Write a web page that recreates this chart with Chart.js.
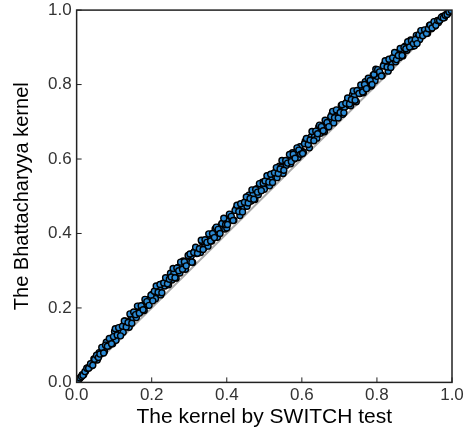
<!DOCTYPE html>
<html>
<head>
<meta charset="utf-8">
<script src="https://cdn.jsdelivr.net/npm/chart.js@4.4.1/dist/chart.umd.min.js"></script>
<style>
  html, body { margin: 0; padding: 0; background: #ffffff; }
  #wrap { width: 472px; height: 435px; position: relative; }
</style>
</head>
<body>
<div id="wrap"><canvas id="c" width="472" height="435"></canvas></div>
<script>
// Kernel by SWITCH test (x) vs Bhattacharyya kernel (y)
const switchKernel = [
  0.002, 0.006, 0.011, 0.015, 0.019, 0.024, 0.029, 0.034, 0.040, 0.046,
  0.051, 0.055, 0.060, 0.064, 0.069, 0.074, 0.079, 0.085, 0.090, 0.096,
  0.101, 0.105, 0.110, 0.114, 0.119, 0.124, 0.129, 0.134, 0.140, 0.145,
  0.150, 0.155, 0.159, 0.164, 0.170, 0.175, 0.180, 0.185, 0.190, 0.196,
  0.201, 0.205, 0.210, 0.215, 0.220, 0.224, 0.229, 0.235, 0.240, 0.245,
  0.250, 0.254, 0.259, 0.265, 0.270, 0.275, 0.279, 0.284, 0.290, 0.295,
  0.300, 0.305, 0.309, 0.314, 0.320, 0.325, 0.330, 0.334, 0.340, 0.345,
  0.350, 0.355, 0.360, 0.364, 0.369, 0.375, 0.380, 0.385, 0.390, 0.395,
  0.400, 0.405, 0.410, 0.414, 0.419, 0.425, 0.430, 0.435, 0.440, 0.445,
  0.450, 0.454, 0.459, 0.465, 0.470, 0.475, 0.480, 0.484, 0.490, 0.495,
  0.500, 0.505, 0.509, 0.514, 0.520, 0.525, 0.530, 0.534, 0.540, 0.545,
  0.550, 0.555, 0.559, 0.564, 0.570, 0.575, 0.580, 0.585, 0.590, 0.595,
  0.600, 0.604, 0.609, 0.615, 0.620, 0.625, 0.629, 0.634, 0.640, 0.645,
  0.650, 0.655, 0.660, 0.664, 0.669, 0.675, 0.680, 0.685, 0.690, 0.695,
  0.700, 0.705, 0.709, 0.714, 0.720, 0.725, 0.730, 0.735, 0.740, 0.745,
  0.750, 0.755, 0.760, 0.764, 0.769, 0.775, 0.780, 0.785, 0.790, 0.795,
  0.800, 0.805, 0.810, 0.814, 0.819, 0.825, 0.830, 0.835, 0.840, 0.845,
  0.850, 0.855, 0.860, 0.864, 0.869, 0.875, 0.880, 0.885, 0.890, 0.895,
  0.900, 0.905, 0.910, 0.914, 0.919, 0.925, 0.930, 0.935, 0.940, 0.945,
  0.950, 0.955, 0.960, 0.964, 0.969, 0.975, 0.980, 0.985, 0.990, 0.996,
  0.004, 0.009, 0.013, 0.017, 0.022, 0.027, 0.032, 0.037, 0.043, 0.048,
  0.053, 0.058, 0.062, 0.067, 0.072, 0.077, 0.082, 0.087, 0.093, 0.098,
  0.103, 0.108, 0.112, 0.117, 0.122, 0.127, 0.132, 0.137, 0.142, 0.147,
  0.152, 0.157, 0.162, 0.167, 0.172, 0.177, 0.182, 0.187, 0.193, 0.198,
  0.203, 0.207, 0.212, 0.217, 0.222, 0.227, 0.232, 0.237, 0.242, 0.247,
  0.252, 0.257, 0.262, 0.267, 0.272, 0.277, 0.282, 0.287, 0.292, 0.297,
  0.302, 0.307, 0.312, 0.317, 0.322, 0.327, 0.332, 0.337, 0.342, 0.347,
  0.352, 0.357, 0.362, 0.367, 0.372, 0.377, 0.382, 0.387, 0.392, 0.397,
  0.402, 0.407, 0.412, 0.417, 0.422, 0.427, 0.432, 0.437, 0.442, 0.447,
  0.452, 0.457, 0.462, 0.467, 0.472, 0.477, 0.482, 0.487, 0.492, 0.497,
  0.502, 0.507, 0.512, 0.517, 0.522, 0.527, 0.532, 0.537, 0.542, 0.547,
  0.552, 0.557, 0.562, 0.567, 0.572, 0.577, 0.582, 0.587, 0.592, 0.597,
  0.602, 0.607, 0.612, 0.617, 0.622, 0.627, 0.632, 0.637, 0.642, 0.647,
  0.652, 0.657, 0.662, 0.667, 0.672, 0.677, 0.682, 0.687, 0.692, 0.697,
  0.702, 0.707, 0.712, 0.717, 0.722, 0.727, 0.732, 0.737, 0.742, 0.747,
  0.752, 0.757, 0.762, 0.767, 0.772, 0.777, 0.782, 0.787, 0.792, 0.797,
  0.802, 0.807, 0.812, 0.817, 0.822, 0.827, 0.832, 0.837, 0.842, 0.847,
  0.852, 0.857, 0.862, 0.867, 0.872, 0.877, 0.882, 0.887, 0.892, 0.897,
  0.902, 0.907, 0.912, 0.917, 0.922, 0.927, 0.932, 0.937, 0.942, 0.947,
  0.952, 0.957, 0.962, 0.967, 0.972, 0.977, 0.982, 0.987, 0.992, 0.998
];
const bhattacharyyaKernel = [
  0.003, 0.007, 0.014, 0.021, 0.021, 0.030, 0.039, 0.041, 0.045, 0.063,
  0.066, 0.060, 0.080, 0.077, 0.086, 0.083, 0.108, 0.098, 0.115, 0.104,
  0.137, 0.113, 0.132, 0.145, 0.137, 0.135, 0.165, 0.163, 0.148, 0.178,
  0.172, 0.182, 0.174, 0.204, 0.189, 0.207, 0.193, 0.222, 0.207, 0.225,
  0.236, 0.227, 0.225, 0.255, 0.252, 0.235, 0.265, 0.259, 0.269, 0.262,
  0.293, 0.275, 0.293, 0.280, 0.309, 0.294, 0.310, 0.326, 0.304, 0.323,
  0.342, 0.339, 0.322, 0.352, 0.346, 0.356, 0.349, 0.378, 0.362, 0.380,
  0.366, 0.395, 0.380, 0.396, 0.412, 0.390, 0.409, 0.422, 0.414, 0.412,
  0.415, 0.434, 0.447, 0.438, 0.436, 0.467, 0.464, 0.448, 0.478, 0.471,
  0.481, 0.473, 0.503, 0.487, 0.505, 0.491, 0.520, 0.504, 0.522, 0.538,
  0.519, 0.536, 0.551, 0.528, 0.548, 0.561, 0.553, 0.550, 0.581, 0.578,
  0.561, 0.591, 0.583, 0.593, 0.587, 0.617, 0.600, 0.618, 0.604, 0.633,
  0.621, 0.618, 0.648, 0.646, 0.630, 0.660, 0.652, 0.662, 0.656, 0.686,
  0.669, 0.687, 0.673, 0.701, 0.686, 0.704, 0.720, 0.697, 0.716, 0.729,
  0.728, 0.744, 0.720, 0.739, 0.753, 0.745, 0.743, 0.773, 0.770, 0.754,
  0.783, 0.776, 0.786, 0.778, 0.808, 0.792, 0.810, 0.796, 0.825, 0.810,
  0.822, 0.835, 0.827, 0.824, 0.854, 0.852, 0.836, 0.866, 0.859, 0.869,
  0.861, 0.886, 0.873, 0.888, 0.877, 0.903, 0.892, 0.906, 0.920, 0.903,
  0.904, 0.932, 0.928, 0.921, 0.938, 0.935, 0.942, 0.938, 0.959, 0.950,
  0.961, 0.957, 0.971, 0.967, 0.975, 0.983, 0.980, 0.988, 0.992, 0.997,
  0.005, 0.012, 0.016, 0.019, 0.029, 0.038, 0.038, 0.050, 0.046, 0.062,
  0.073, 0.067, 0.076, 0.094, 0.079, 0.100, 0.097, 0.118, 0.104, 0.123,
  0.144, 0.127, 0.147, 0.125, 0.151, 0.165, 0.149, 0.161, 0.184, 0.159,
  0.189, 0.182, 0.205, 0.186, 0.206, 0.195, 0.223, 0.217, 0.207, 0.234,
  0.219, 0.245, 0.259, 0.242, 0.263, 0.241, 0.267, 0.281, 0.265, 0.277,
  0.283, 0.306, 0.281, 0.307, 0.300, 0.323, 0.304, 0.324, 0.313, 0.341,
  0.345, 0.323, 0.349, 0.363, 0.347, 0.359, 0.382, 0.357, 0.383, 0.376,
  0.399, 0.380, 0.400, 0.389, 0.417, 0.411, 0.400, 0.427, 0.441, 0.424,
  0.424, 0.452, 0.446, 0.435, 0.462, 0.476, 0.459, 0.480, 0.458, 0.484,
  0.498, 0.482, 0.494, 0.517, 0.492, 0.518, 0.511, 0.534, 0.515, 0.535,
  0.541, 0.555, 0.538, 0.559, 0.537, 0.563, 0.577, 0.561, 0.573, 0.596,
  0.570, 0.596, 0.589, 0.612, 0.593, 0.613, 0.602, 0.630, 0.624, 0.613,
  0.615, 0.641, 0.655, 0.639, 0.651, 0.674, 0.649, 0.675, 0.668, 0.691,
  0.687, 0.676, 0.704, 0.698, 0.687, 0.714, 0.728, 0.711, 0.732, 0.710,
  0.725, 0.746, 0.724, 0.750, 0.764, 0.748, 0.760, 0.783, 0.758, 0.784,
  0.776, 0.799, 0.780, 0.800, 0.789, 0.817, 0.811, 0.800, 0.827, 0.841,
  0.840, 0.834, 0.823, 0.850, 0.864, 0.847, 0.868, 0.846, 0.872, 0.886,
  0.867, 0.878, 0.897, 0.878, 0.900, 0.896, 0.915, 0.901, 0.918, 0.910,
  0.921, 0.910, 0.934, 0.945, 0.931, 0.947, 0.937, 0.950, 0.960, 0.952,
  0.969, 0.959, 0.972, 0.972, 0.981, 0.979, 0.986, 0.988, 0.995, 0.999
];
const diagonal = [0, 1];
const tickValues = [0.0, 0.2, 0.4, 0.6, 0.8, 1.0];
const xTitle = 'The kernel by SWITCH test';
const yTitle = 'The Bhattacharyya kernel';

const points = switchKernel.map((x, i) => ({ x: x, y: bhattacharyyaKernel[i] }));
const diagPoints = diagonal.map(v => ({ x: v, y: v }));

const FONT = '"Liberation Sans", Arial, Helvetica, sans-serif';

// draws full frame and inward ticks using the library's scales
const framePlugin = {
  id: 'frame',
  afterDraw(chart) {
    const { ctx, chartArea: a, scales } = chart;
    ctx.save();
    ctx.strokeStyle = '#222';
    ctx.lineWidth = 1.5;
    ctx.strokeRect(a.left, a.top, a.right - a.left, a.bottom - a.top);
    ctx.lineWidth = 1;
    ctx.beginPath();
    tickValues.forEach(v => {
      const px = scales.x.getPixelForValue(v);
      ctx.moveTo(px, a.bottom); ctx.lineTo(px, a.bottom - 5);
      const py = scales.y.getPixelForValue(v);
      ctx.moveTo(a.left, py); ctx.lineTo(a.left + 5, py);
    });
    ctx.stroke();
    ctx.restore();
  }
};

new Chart(document.getElementById('c'), {
  type: 'scatter',
  data: {
    datasets: [
      {
        label: 'kernels',
        data: points,
        backgroundColor: '#2a8ad4',
        borderColor: '#000000',
        borderWidth: 1.4,
        pointRadius: 3,
        order: 0
      },
      {
        label: 'y = x',
        type: 'line',
        data: diagPoints,
        borderColor: '#aaaaaa',
        borderWidth: 2,
        pointRadius: 0,
        fill: false,
        order: 1
      }
    ]
  },
  plugins: [framePlugin],
  options: {
    responsive: false,
    animation: false,
    devicePixelRatio: 1,
    layout: { padding: { top: 0, right: 20, bottom: 5, left: 10 } },
    plugins: { legend: { display: false }, tooltip: { enabled: false } },
    scales: {
      x: {
        type: 'linear', min: 0, max: 1,
        afterBuildTicks: s => { s.ticks = tickValues.map(v => ({ value: v })); },
        ticks: { callback: v => v.toFixed(1), color: '#333', font: { family: FONT, size: 17 }, padding: 3, maxRotation: 0 },
        grid: { display: false, drawTicks: false },
        border: { display: false },
        title: { display: true, text: xTitle, color: '#000', font: { family: FONT, size: 21 }, padding: { top: -4, bottom: 0 } }
      },
      y: {
        type: 'linear', min: 0, max: 1,
        afterBuildTicks: s => { s.ticks = tickValues.map(v => ({ value: v })); },
        ticks: { callback: v => v.toFixed(1), color: '#333', font: { family: FONT, size: 17, lineHeight: 0.6 }, padding: 5 },
        grid: { display: false, drawTicks: false },
        border: { display: false },
        title: { display: true, text: yTitle, color: '#000', font: { family: FONT, size: 20 }, padding: { top: 0, bottom: 9 } }
      }
    }
  }
});
</script>
</body>
</html>
